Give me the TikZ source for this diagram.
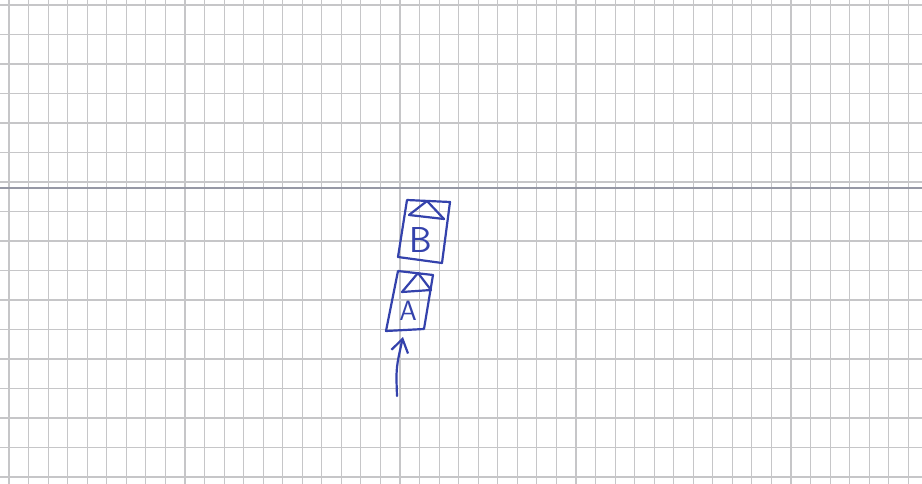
\documentclass[tikz,border=0pt]{standalone}
\usetikzlibrary{arrows.meta}
\definecolor{ink}{RGB}{52,66,172}
\definecolor{gridgray}{RGB}{198,198,200}
\definecolor{foldgray}{RGB}{150,152,165}
\tikzset{
  gridline/.style={draw=gridgray, line width=1.1pt},
  foldline/.style={draw=foldgray, line width=2pt},
  pen/.style={draw=ink, line width=2.2pt, line join=round, line cap=round},
  lbl/.style={text=ink, font=\sffamily, inner sep=0pt},
}
\begin{document}
\begin{tikzpicture}[x=1pt,y=-1pt]
\fill[white] (0,0) rectangle (922,484);
\useasboundingbox (0,0) rectangle (922,484);
% grid paper
\foreach \i in {0,...,46} {
  \draw[gridline] ({9+19.55*\i},0) -- ({9+19.55*\i},484);
}
\foreach \j in {0,...,16} {
  \draw[gridline] (0,{5+29.5*\j}) -- (922,{5+29.5*\j});
}
\draw[foldline] (0,188) -- (922,188);
% box B
\coordinate (b1) at (407,200);
\coordinate (b2) at (450,202);
\coordinate (b3) at (442,263);
\coordinate (b4) at (398,257);
\draw[pen] (b1) -- (b2) -- (b3) -- (b4) -- cycle;
\coordinate (bl) at (409,215);
\coordinate (br) at (444,219);
\coordinate (bt) at (427,201);
\draw[pen] (bl) -- (br);
\draw[pen] (bl) -- (bt) -- (br);
\node[lbl, font=\sffamily\fontsize{36}{36}\selectfont] (B) at (421,240) {B};
% box A
\coordinate (a1) at (398,271);
\coordinate (a2) at (433,275);
\coordinate (a3) at (424,329);
\coordinate (a4) at (386,331);
\draw[pen] (a1) -- (a2) -- (a3) -- (a4) -- cycle;
\coordinate (al) at (402,292);
\coordinate (ar) at (431,290);
\coordinate (at) at (418,273);
\draw[pen] (al) -- (ar);
\draw[pen] (al) -- (at) -- (ar);
\node[lbl, font=\sffamily\fontsize{28}{28}\selectfont] (A) at (408,311) {A};
% arrow
\coordinate (tail) at (397,396);
\coordinate (head) at (403,337);
\draw[pen, -{Straight Barb[length=13pt, width=17pt, line width=2.2pt]}] (tail) .. controls (396,368) .. (head);
\end{tikzpicture}
\end{document}
